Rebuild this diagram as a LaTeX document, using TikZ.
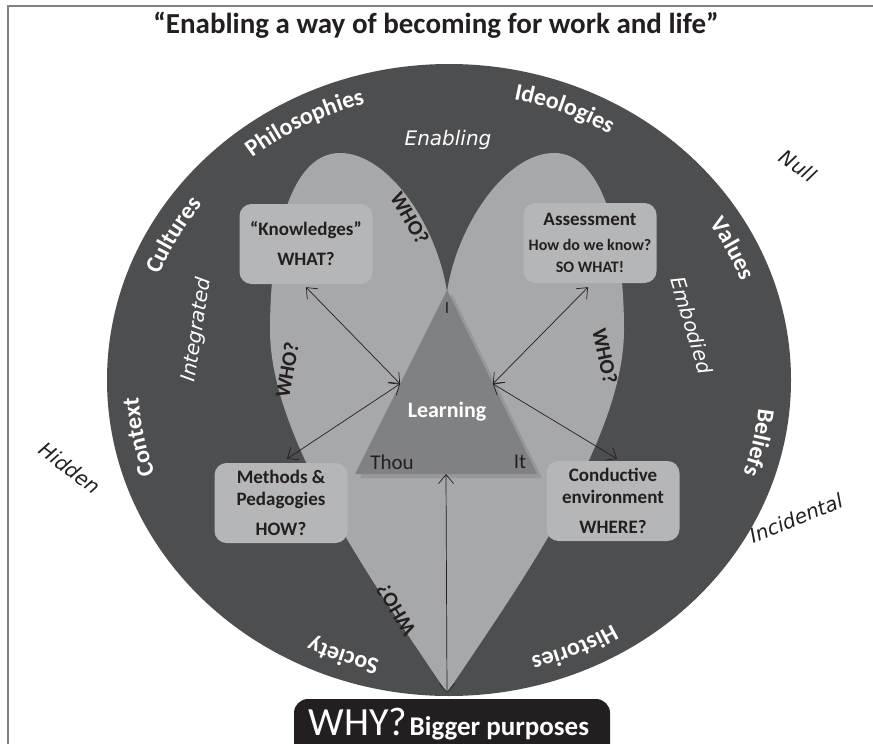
\documentclass[tikz,border=0pt]{standalone}
\usepackage{fontspec}
\setmainfont{Carlito}
\newfontfamily\handfont{DejaVu Sans}
\usepackage{tikz}
\usetikzlibrary{arrows.meta, positioning, shadows, calc, decorations.text}
\definecolor{ringgray}{RGB}{77,78,80}
\definecolor{heartgray}{RGB}{167,168,170}
\definecolor{boxgray}{RGB}{181,182,184}
\definecolor{trigray}{RGB}{128,129,131}
\definecolor{inkdark}{RGB}{35,31,32}
\definecolor{framegray}{RGB}{128,128,128}

% testo lungo l'anello: #1 angolo, #2 parola
\newcommand{\ringlabel}[2]{%
  \path[decorate,decoration={text along path,text align=center,
      text={|\color{white}\bfseries\fontsize{24}{28}\selectfont|#2}}]
    ([shift={({#1+35}:311 and 287)}]ctr) arc[start angle={#1+35},end angle={#1-35},x radius=311,y radius=287];}

\begin{document}
\begin{tikzpicture}[x=1pt,y=1pt,
    box/.style={rectangle,rounded corners=12pt,fill=boxgray,minimum width=133pt,minimum height=80pt},
    boxtext/.style={font=\bfseries\fontsize{19}{22}\selectfont,text=inkdark,align=center},
    who/.style={font=\bfseries\fontsize{21}{21}\selectfont,text=inkdark},
    hand/.style={font=\handfont\itshape\fontsize{20}{20}\selectfont},
    link/.style={{Straight Barb[length=9pt,width=15pt]}-{Straight Barb[length=9pt,width=15pt]},line width=0.7pt,draw=inkdark}]
    \useasboundingbox (0,0) rectangle (873,-744);

    % Cornice
    \draw[framegray,line width=2.5pt] (8,-744) -- (8,-6) -- (873,-6);

    % Titolo
    \node[font=\bfseries\fontsize{29}{34}\selectfont,text=inkdark] (title) at (436,-25) {“Enabling a way of becoming for work and life”};

    % Anello esterno
    \coordinate (ctr) at (449,-380);
    \fill[ringgray] (ctr) ellipse[x radius=342,y radius=316];

    \ringlabel{118}{Philosophies}
    \ringlabel{68}{Ideologies}
    \ringlabel{151}{Cultures}
    \ringlabel{191}{Context}
    \ringlabel{26}{Values}
    \ringlabel{-12}{Beliefs}
    \ringlabel{-66}{Histories}
    \ringlabel{-110}{Society}

    % Cuore
    \fill[heartgray] (447,-693)
        .. controls (377,-588) and (270,-440) .. (270,-330)
        .. controls (270,-240) and (290,-153) .. (340,-153)
        .. controls (388,-153) and (437,-225) .. (447,-292)
        .. controls (457,-225) and (506,-153) .. (554,-153)
        .. controls (604,-153) and (624,-240) .. (624,-330)
        .. controls (624,-440) and (517,-588) .. (447,-693) -- cycle;

    % Triangolo
    \coordinate (apex) at (447,-290);
    \coordinate (bl) at (355,-474);
    \coordinate (br) at (537,-474);
    \fill[trigray,drop shadow={shadow xshift=5pt,shadow yshift=-4pt,opacity=0.4}] (apex) -- (bl) -- (br) -- cycle;
    \node[font=\fontsize{17}{17}\selectfont,text=inkdark] (ilab) at (447,-308) {I};
    \node[font=\fontsize{21}{21}\selectfont,text=inkdark] (thou) at (392,-462) {Thou};
    \node[font=\fontsize{21}{21}\selectfont,text=inkdark] (itlab) at (520,-462) {It};
    \node[font=\bfseries\fontsize{22}{22}\selectfont,text=white] (learn) at (447,-412) {Learning};

    % Riquadri
    \node[box] (know) at (306,-244) {};
    \node[boxtext] at (know) {“Knowledges”\\[8pt]WHAT?};

    \node[box] (assess) at (590,-243) {};
    \node[boxtext] at (assess) {Assessment\\[3pt]\fontsize{16}{20}\selectfont How do we know?\\\fontsize{16}{20}\selectfont SO WHAT!};

    \node[box] (meth) at (281,-503) {};
    \node[boxtext] at (meth) {Methods \&\\Pedagogies\\[8pt]HOW?};

    \node[box] (cond) at (613,-501) {};
    \node[boxtext] at (cond) {Conductive\\environment\\[8pt]WHERE?};

    % Frecce
    \coordinate (lside) at ($(bl)!0.49!(apex)$);
    \coordinate (rside) at ($(br)!0.49!(apex)$);
    \coordinate (base) at ($(bl)!0.5!(br)$);
    \coordinate (tip) at (447,-693);
    \draw[link] ([yshift=-3pt]know.south) -- (lside);
    \draw[link] ([xshift=-2pt,yshift=-4pt]assess.south) -- (rside);
    \draw[link] ([xshift=6pt,yshift=4pt]meth.north) -- (lside);
    \draw[link] ([xshift=4pt,yshift=2pt]cond.north) -- (rside);
    \draw[link] (base) -- (tip);

    % WHO?
    \node[who,rotate=-60] (whoa) at (410,-218) {WHO?};
    \node[who,rotate=80] (whob) at (287,-370) {WHO?};
    \node[who,rotate=-78] (whoc) at (605,-356) {WHO?};
    \node[who,rotate=121] (whod) at (396,-610) {WHO?};

    % Parole scritte a mano
    \node[hand,text=white] (enab) at (448,-140) {Enabling};
    \node[hand,text=white,rotate=81] (integ) at (197,-330) {Integrated};
    \node[hand,text=white,rotate=-73] (embod) at (692,-325) {Embodied};
    \node[hand,text=inkdark,rotate=-37] (hidden) at (70,-468) {Hidden};
    \node[hand,text=inkdark,rotate=-35] (null) at (798,-166) {Null};
    \node[hand,text=inkdark,rotate=22] (incid) at (796,-518) {Incidental};

    % WHY?
    \node[rectangle,rounded corners=14pt,fill=inkdark,minimum width=316pt,minimum height=72pt] (why) at (452,-735) {};
    \node[text=white,anchor=base] (whytext) at (449,-735) {{\fontsize{40}{40}\selectfont WHY?} {\bfseries\fontsize{27}{27}\selectfont Bigger purposes}};
\end{tikzpicture}
\end{document}
